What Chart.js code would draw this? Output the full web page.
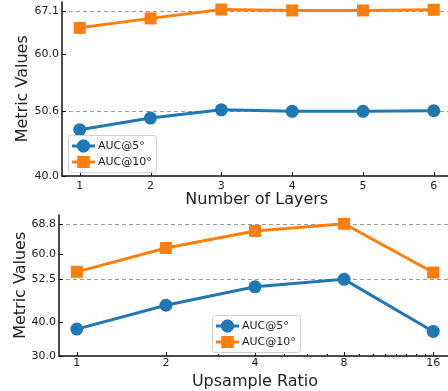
<!DOCTYPE html>
<html>
<head>
<meta charset="utf-8">
<script src="https://cdn.jsdelivr.net/npm/chart.js@4/dist/chart.umd.min.js"></script>
<style>
  html, body { margin: 0; padding: 0; background: #fff; overflow: hidden; }
  #wrap { position: relative; width: 448px; height: 391px; overflow: hidden; }
  canvas { position: absolute; left: 0; }
  /* top chart is shifted up so its plot reaches the window edge, like the crop in the reference */
  #top { top: -8px; }
  #bottom { top: 205px; }
</style>
</head>
<body>
<div id="wrap">
  <canvas id="top" width="460" height="218"></canvas>
  <canvas id="bottom" width="460" height="186"></canvas>
</div>
<script>
// data
const layers = [1, 2, 3, 4, 5, 6];
const layersAuc5 = [47.6, 49.5, 50.85, 50.6, 50.6, 50.7];
const layersAuc10 = [64.3, 65.85, 67.3, 67.15, 67.15, 67.25];
const layersTicks = [40.0, 50.6, 60.0, 67.1];
const layersGrid = [50.6, 67.1];

const ratios = [1, 2, 4, 8, 16];
const ratioAuc5 = [37.9, 44.9, 50.3, 52.5, 37.2];
const ratioAuc10 = [54.7, 61.7, 66.7, 68.8, 54.5];
const ratioTicks = [30.0, 40.0, 52.5, 60.0, 68.8];
const ratioGrid = [52.5, 68.8];
const ratioMinor = [3, 5, 6, 7, 9, 10, 11, 12, 13, 14, 15];

const seriesNames = ['AUC@5°', 'AUC@10°'];
const blue = '#1f77b4';
const orange = '#ff7f0e';
const FONT = 'DejaVu Sans';

Chart.defaults.font.family = FONT;
Chart.defaults.color = '#222';

// legend box drawn inside the plot, like matplotlib
const boxLegend = {
  id: 'boxLegend',
  afterDatasetsDraw(chart, args, opts) {
    const ctx = chart.ctx;
    const x = opts.x, y = opts.y, w = 88, h = 37;
    ctx.save();
    ctx.fillStyle = 'rgba(255,255,255,0.85)';
    ctx.strokeStyle = '#d0d0d0';
    ctx.lineWidth = 1;
    ctx.beginPath();
    ctx.roundRect(x + 0.5, y + 0.5, w, h, 3);
    ctx.fill();
    ctx.stroke();
    chart.data.datasets.forEach((ds, i) => {
      const cy = y + 11 + i * 16;
      ctx.strokeStyle = ds.borderColor;
      ctx.lineWidth = 3;
      ctx.beginPath();
      ctx.moveTo(x + 4, cy);
      ctx.lineTo(x + 27, cy);
      ctx.stroke();
      ctx.fillStyle = ds.backgroundColor;
      Chart.helpers.drawPoint(ctx, {
        pointStyle: ds.pointStyle, radius: ds.pointRadius, borderWidth: 0
      }, x + 15.5, cy);
      ctx.fill();
      ctx.fillStyle = '#222';
      ctx.font = '11px ' + FONT;
      ctx.textBaseline = 'middle';
      ctx.fillText(ds.label, x + 30, cy + 0.5);
    });
    ctx.restore();
  }
};

// dashed reference lines, left/bottom spines and inward ticks
const spines = {
  id: 'spines',
  beforeDatasetsDraw(chart, args, opts) {
    const ctx = chart.ctx, a = chart.chartArea, xs = chart.scales.x, ys = chart.scales.y;
    ctx.save();
    ctx.strokeStyle = '#999';
    ctx.lineWidth = 1;
    ctx.setLineDash([4, 3]);
    opts.grid.forEach(v => {
      const py = Math.round(ys.getPixelForValue(v)) + 0.5;
      ctx.beginPath();
      ctx.moveTo(a.left, py);
      ctx.lineTo(a.right, py);
      ctx.stroke();
    });
    ctx.setLineDash([]);
    ctx.strokeStyle = '#111';
    ctx.lineWidth = 1.5;
    ctx.beginPath();
    ctx.moveTo(a.left, a.top);
    ctx.lineTo(a.left, a.bottom);
    ctx.lineTo(a.right, a.bottom);
    ctx.stroke();
    ctx.lineWidth = 1;
    const tick = (px, len) => {
      px = Math.round(px) + 0.5;
      ctx.beginPath();
      ctx.moveTo(px, a.bottom);
      ctx.lineTo(px, a.bottom - len);
      ctx.stroke();
    };
    xs.ticks.forEach(t => tick(xs.getPixelForValue(t.value), 4));
    (opts.minor || []).forEach(v => tick(xs.getPixelForValue(v), 2));
    ys.ticks.forEach(t => {
      const py = Math.round(ys.getPixelForValue(t.value)) + 0.5;
      ctx.beginPath();
      ctx.moveTo(a.left, py);
      ctx.lineTo(a.left + 4, py);
      ctx.stroke();
    });
    ctx.restore();
  }
};

function makeDataset(label, xs, ys, color, style, r) {
  return {
    label: label,
    data: xs.map((x, i) => ({ x: x, y: ys[i] })),
    borderColor: color,
    backgroundColor: color,
    borderWidth: 3,
    pointStyle: style,
    pointRadius: r,
    pointBorderWidth: 0,
    pointBackgroundColor: color,
    clip: false,
    tension: 0
  };
}

function makeChart(id, cfg) {
  const xScale = cfg.log
    ? { type: 'logarithmic', min: cfg.xMin, max: cfg.xMax }
    : { type: 'linear', min: cfg.xMin, max: cfg.xMax };
  new Chart(document.getElementById(id), {
    type: 'line',
    data: { datasets: cfg.datasets },
    options: {
      responsive: false,
      animation: false,
      events: [],
      layout: { padding: { top: cfg.padTop, right: cfg.padRight, left: 0, bottom: 0 } },
      plugins: {
        legend: { display: false },
        tooltip: { enabled: false },
        boxLegend: { x: cfg.legendX, y: cfg.legendY },
        spines: { grid: cfg.grid, minor: cfg.minor }
      },
      scales: {
        x: Object.assign(xScale, {
          grid: { display: false, drawTicks: false },
          border: { display: false },
          afterBuildTicks: s => { s.ticks = cfg.xTicks.map(v => ({ value: v })); },
          afterFit: s => { s.height = cfg.xHeight; s.paddingLeft = 0; s.paddingRight = 0; },
          ticks: {
            font: { size: 11 },
            padding: cfg.xTickPad,
            maxRotation: 0,
            autoSkip: false,
            callback: v => String(v)
          },
          title: {
            display: true,
            text: cfg.xTitle,
            font: { size: 16 },
            padding: { top: 2, bottom: cfg.xTitleBottom }
          }
        }),
        y: {
          min: cfg.yMin,
          max: cfg.yMax,
          grid: { display: false, drawTicks: false },
          border: { display: false },
          afterBuildTicks: s => { s.ticks = cfg.yTicks.map(v => ({ value: v })); },
          afterFit: s => { s.width = cfg.yWidth; },
          ticks: {
            font: { size: 11 },
            padding: 3,
            callback: v => v.toFixed(1)
          },
          title: {
            display: true,
            text: 'Metric Values',
            font: { size: 16 },
            padding: { top: cfg.yTitleLeft, bottom: 0 }
          }
        }
      }
    },
    plugins: [spines, boxLegend]
  });
}

makeChart('top', {
  datasets: [
    makeDataset(seriesNames[0], layers, layersAuc5, blue, 'circle', 6.5),
    makeDataset(seriesNames[1], layers, layersAuc10, orange, 'rect', 8.5)
  ],
  xMin: 0.75, xMax: 6.25,
  xTicks: layers,
  xTickPad: 4,
  xTitle: 'Number of Layers',
  xHeight: 34,
  xTitleBottom: 1,
  yMin: 40, yMax: 68.6,
  yTicks: layersTicks,
  grid: layersGrid,
  yWidth: 62,
  yTitleLeft: 13,
  padTop: 0, padRight: 5,
  legendX: 68, legendY: 143
});

makeChart('bottom', {
  datasets: [
    makeDataset(seriesNames[0], ratios, ratioAuc5, blue, 'circle', 6.5),
    makeDataset(seriesNames[1], ratios, ratioAuc10, orange, 'rect', 8.5)
  ],
  log: true,
  xMin: Math.pow(2, -0.2), xMax: Math.pow(2, 4.2),
  xTicks: ratios,
  xTickPad: 1,
  minor: ratioMinor,
  xTitle: 'Upsample Ratio',
  xHeight: 35,
  xTitleBottom: 0,
  yMin: 30, yMax: 71.5,
  yTicks: ratioTicks,
  grid: ratioGrid,
  yWidth: 59,
  yTitleLeft: 11,
  padTop: 8, padRight: 9,
  legendX: 212, legendY: 110
});
</script>
</body>
</html>
